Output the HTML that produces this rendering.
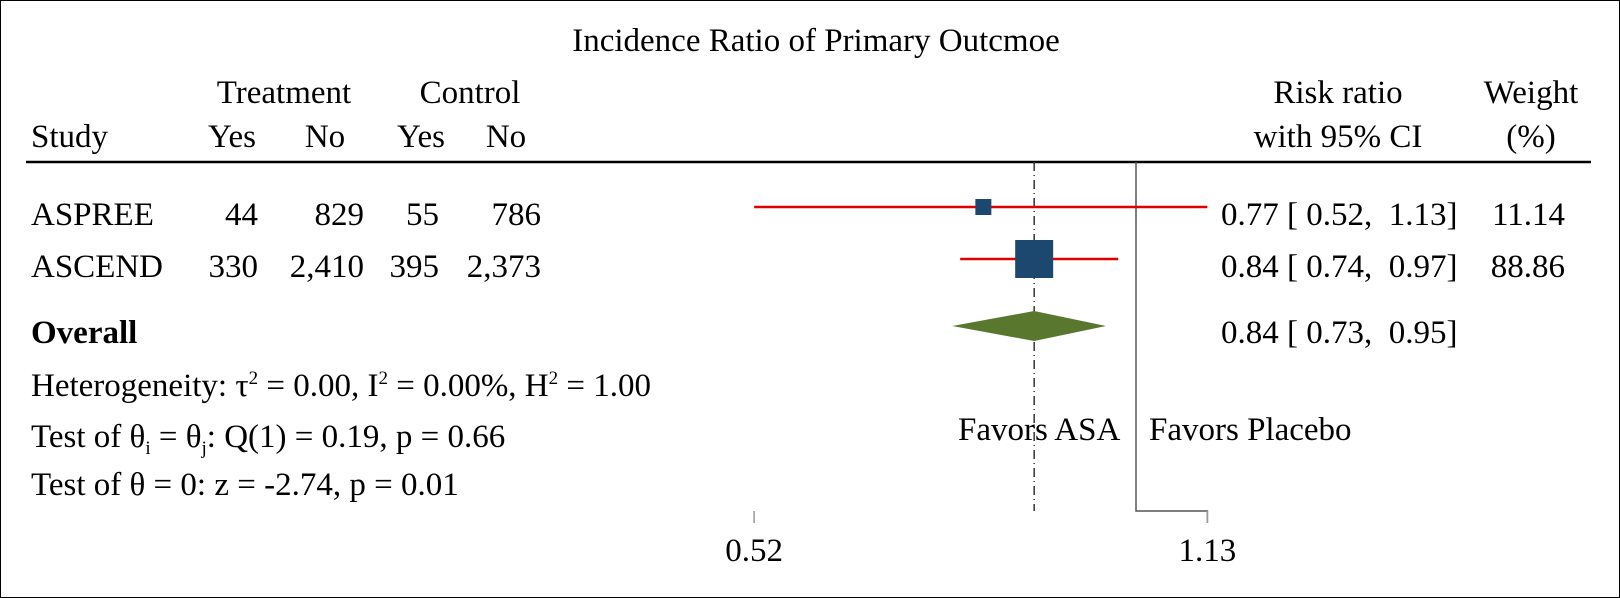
<!DOCTYPE html>
<html><head><meta charset="utf-8"><style>
html,body{margin:0;padding:0;background:#fff}
svg{display:block}
text{font-family:"Liberation Serif",serif;font-size:33px;fill:#000}
</style></head><body>
<svg id="chart" width="1620" height="598" viewBox="0 0 1620 598">
<rect x="0.5" y="0.5" width="1619" height="597" fill="#fff" stroke="#000" stroke-width="1"/>
<text x="816" y="51" text-anchor="middle">Incidence Ratio of Primary Outcmoe</text>
<text x="284" y="103" text-anchor="middle">Treatment</text>
<text x="470" y="103" text-anchor="middle">Control</text>
<text x="31" y="147">Study</text>
<text x="232" y="147" text-anchor="middle">Yes</text>
<text x="325" y="147" text-anchor="middle">No</text>
<text x="421" y="147" text-anchor="middle">Yes</text>
<text x="506" y="147" text-anchor="middle">No</text>
<text x="1338" y="103" text-anchor="middle">Risk ratio</text>
<text x="1338" y="147" text-anchor="middle">with 95% CI</text>
<text x="1531" y="103" text-anchor="middle">Weight</text>
<text x="1531" y="147" text-anchor="middle">(%)</text>
<line x1="26" y1="162" x2="1591" y2="162" stroke="#000" stroke-width="2.5"/>
<g id="plot"></g>
<text x="31" y="343" font-weight="bold">Overall</text>
<text x="31" y="396">Heterogeneity: τ<tspan font-size="19" dy="-12">2</tspan><tspan dy="12"> = 0.00, I</tspan><tspan font-size="19" dy="-12">2</tspan><tspan dy="12"> = 0.00%, H</tspan><tspan font-size="19" dy="-12">2</tspan><tspan dy="12"> = 1.00</tspan></text>
<text x="31" y="447">Test of θ<tspan font-size="19" dy="7">i</tspan><tspan dy="-7"> = θ</tspan><tspan font-size="19" dy="7">j</tspan><tspan dy="-7">: Q(1) = 0.19, p = 0.66</tspan></text>
<text x="31" y="495">Test of θ = 0: z = -2.74, p = 0.01</text>
<text x="958" y="440">Favors ASA</text>
<text x="1149" y="440">Favors Placebo</text>
</svg>
<script>
const studies = ["ASPREE", "ASCEND"];
const treatYes = ["44", "330"];
const treatNo = ["829", "2,410"];
const ctrlYes = ["55", "395"];
const ctrlNo = ["786", "2,373"];
const rr = [0.77, 0.84];
const lo = [0.52, 0.74];
const hi = [1.13, 0.97];
const weights = [11.14, 88.86];
const ciLabels = ["0.77 [ 0.52,  1.13]", "0.84 [ 0.74,  0.97]"];
const overall = [0.84, 0.73, 0.95];
const overallLabel = "0.84 [ 0.73,  0.95]";
const ticks = [0.52, 1.13];

const NS = "http://www.w3.org/2000/svg";
const g = document.getElementById("plot");
const X = v => 1136 + 584 * Math.log(v);
const rowY = [207, 259];
function mk(tag, attrs, txt) {
  const e = document.createElementNS(NS, tag);
  for (const k in attrs) e.setAttribute(k, attrs[k]);
  if (txt !== undefined) e.textContent = txt;
  g.appendChild(e);
  return e;
}
let e = mk("polyline", {points: `${X(1)},162 ${X(1)},511 ${X(ticks[1])},511 ${X(ticks[1])},523`, fill: "none", stroke: "#555", "stroke-width": 1.5});


e = mk("line", {x1: X(overall[0]), y1: 162, x2: X(overall[0]), y2: 511, stroke: "#333", "stroke-width": 1.5, "stroke-dasharray": "9,4,1,4"});


ticks.forEach((t, i) => {
  let tk = mk("line", {x1: X(t), y1: 511, x2: X(t), y2: 523, stroke: "#999", "stroke-width": 1.5});
  
  
  let tl = mk("text", {x: X(t), y: 561, "text-anchor": "middle"}, t.toFixed(2));
  
  
});
const maxW = Math.max(...weights);
studies.forEach((s, i) => {
  const y = rowY[i];
  const ty = y + 18;
  let t = mk("text", {x: 31, y: ty}, s);
  
  
  [[treatYes, 258], [treatNo, 364], [ctrlYes, 439], [ctrlNo, 541]].forEach(([arr, xr]) => {
    let c = mk("text", {x: xr, y: ty, "text-anchor": "end"}, arr[i]);
    
    
  });
  let ci = mk("line", {x1: X(lo[i]), y1: y, x2: X(hi[i]), y2: y, stroke: "#e00000", "stroke-width": 2.5});
  
  
  const side = Math.max(38 * Math.sqrt(weights[i] / maxW), 16);
  let sq = mk("rect", {x: X(rr[i]) - side / 2, y: y - side / 2, width: side, height: side, fill: "#1c4870"});
  
  
  let cl = mk("text", {x: 1221, y: ty}, ciLabels[i]);
  
  
  cl.style.whiteSpace = "pre";
  let wl = mk("text", {x: 1565, y: ty, "text-anchor": "end"}, weights[i].toFixed(2));
  
  
});
const dy = 326;
let d = mk("polygon", {points: `${X(overall[1])},${dy} ${X(overall[0])},${dy - 15} ${X(overall[2])},${dy} ${X(overall[0])},${dy + 15}`, fill: "#5a772e"});


let ol = mk("text", {x: 1221, y: 343}, overallLabel);


ol.style.whiteSpace = "pre";
</script>
</body></html>
